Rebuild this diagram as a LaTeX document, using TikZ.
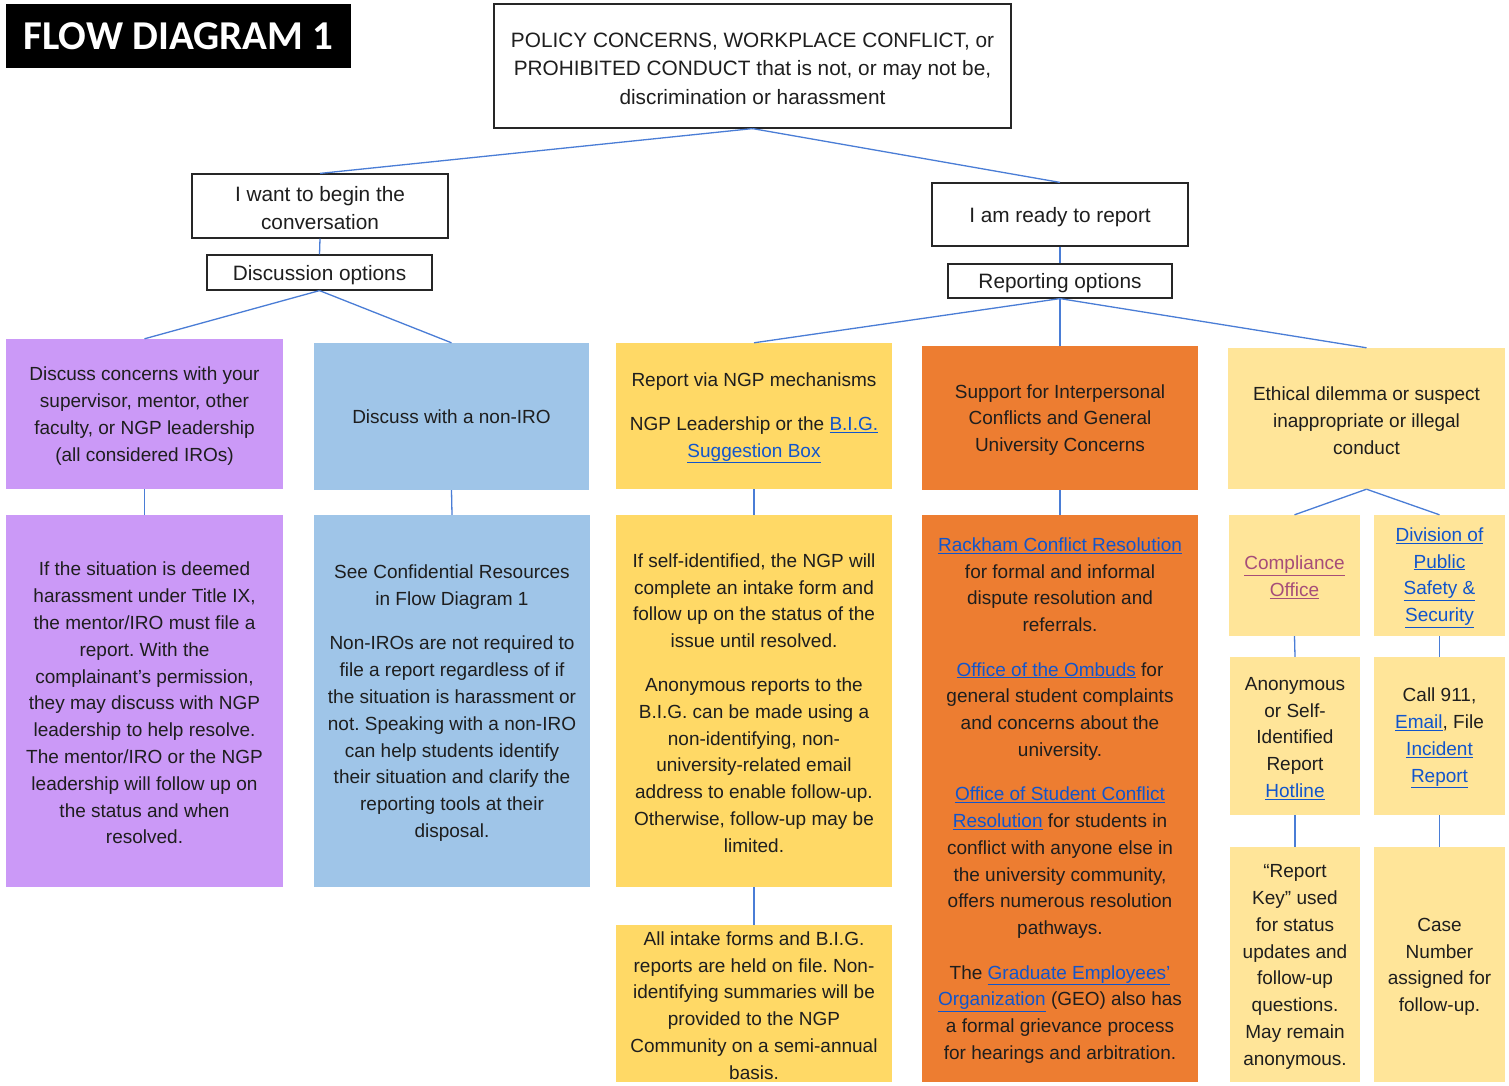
\documentclass[tikz,border=0pt]{standalone}
\usepackage{fontspec}
\setmainfont{Liberation Sans}
\newfontfamily\titlefont{Carlito}
\definecolor{purp}{RGB}{203,153,247}
\definecolor{lblue}{RGB}{159,197,232}
\definecolor{ylw}{RGB}{255,217,102}
\definecolor{orng}{RGB}{237,125,49}
\definecolor{lylw}{RGB}{255,229,153}
\definecolor{conncol}{RGB}{74,125,214}
\definecolor{linkblue}{RGB}{17,85,204}
\definecolor{linkvis}{RGB}{166,77,121}
\definecolor{txt}{RGB}{30,30,30}
\newcommand{\lnk}[1]{\textcolor{linkblue}{\underline{#1}}}
\newcommand{\vlnk}[1]{\textcolor{linkvis}{\underline{#1}}}
\newcommand{\mainfs}{\fontsize{19}{26.8}\selectfont\frenchspacing}
\newcommand{\headfs}{\fontsize{20.8}{28.6}\selectfont\frenchspacing}
\newcommand{\dn}{\rule{0pt}{0pt}\\[-9pt]}
\tikzset{
  wbox/.style={draw=black!85, line width=1.2pt, fill=white, inner sep=0pt, align=center, font=\headfs, text=txt},
  cbox/.style={draw=none, inner sep=0pt, align=center, font=\mainfs, text=txt},
  conn/.style={draw=conncol, line width=1.3pt},
}
\begin{document}
\begin{tikzpicture}[x=1pt,y=-1pt]
\useasboundingbox (0,0) rectangle (1509,1086);
\fill[white] (0,0) rectangle (1509,1086);

\node[fill=black, text=white, inner sep=0pt, minimum width=345, minimum height=64,
  font={\titlefont\bfseries\fontsize{41}{41}\selectfont}] (title) at (178.5,36) {FLOW DIAGRAM 1};

\node[wbox, minimum width=517, minimum height=124] (top) at (752.5,66)
 {\dn POLICY CONCERNS, WORKPLACE CONFLICT, or\\PROHIBITED CONDUCT that is not, or may not be,\\discrimination or harassment};
\node[wbox, minimum width=256, minimum height=64] (want) at (320,206) {\dn I want to begin the\\conversation};
\node[wbox, minimum width=225, minimum height=35] (disc) at (319.5,272.5) {\dn Discussion options};
\node[wbox, minimum width=256, minimum height=63] (ready) at (1060,214.5) {\dn I am ready to report};
\node[wbox, minimum width=224, minimum height=34] (rep) at (1060,281) {\dn Reporting options};

% row 1
\node[cbox, fill=purp, minimum width=277, minimum height=150] (p1) at (144.5,414)
 {\dn Discuss concerns with your\\supervisor, mentor, other\\faculty, or NGP leadership\\(all considered IROs)};
\node[cbox, fill=lblue, minimum width=275, minimum height=147] (b1) at (451.5,416.5) {Discuss with a non-IRO};
\node[cbox, fill=ylw, minimum width=276, minimum height=146] (y1) at (754,416)
 {\dn Report via NGP mechanisms\\[17pt]NGP Leadership or the \lnk{B.I.G.}\\\lnk{Suggestion Box}};
\node[cbox, fill=orng, minimum width=276, minimum height=144] (o1) at (1060,418)
 {\dn Support for Interpersonal\\Conflicts and General\\University Concerns};
\node[cbox, fill=lylw, minimum width=277, minimum height=141] (e1) at (1366.5,418.5)
 {\dn Ethical dilemma or suspect\\inappropriate or illegal\\conduct};

% row 2
\node[cbox, fill=purp, minimum width=277, minimum height=372] (p2) at (144.5,701)
 {\dn If the situation is deemed\\harassment under Title IX,\\the mentor/IRO must file a\\report. With the\\complainant's permission,\\they may discuss with NGP\\leadership to help resolve.\\The mentor/IRO or the NGP\\leadership will follow up on\\the status and when\\resolved.};
\node[cbox, fill=lblue, minimum width=276, minimum height=372] (b2) at (452,701)
 {\dn See Confidential Resources\\in Flow Diagram 1\\[18pt]Non-IROs are not required to\\file a report regardless of if\\the situation is harassment or\\not. Speaking with a non-IRO\\can help students identify\\their situation and clarify the\\reporting tools at their\\disposal.};
\node[cbox, fill=ylw, minimum width=276, minimum height=372] (y2) at (754,701)
 {\dn If self-identified, the NGP will\\complete an intake form and\\follow up on the status of the\\issue until resolved.\\[17pt]Anonymous reports to the\\B.I.G. can be made using a\\non-identifying, non-\\university-related email\\address to enable follow-up.\\Otherwise, follow-up may be\\limited.};
\node[cbox, fill=ylw, minimum width=276, minimum height=157] (y3) at (754,1003.5)
 {\dn All intake forms and B.I.G.\\reports are held on file. Non-\\identifying summaries will be\\provided to the NGP\\Community on a semi-annual\\basis.};
\node[cbox, fill=orng, minimum width=276, minimum height=567] (o2) at (1060,798.5)
 {\dn\lnk{Rackham Conflict Resolution}\\for formal and informal\\dispute resolution and\\referrals.\\[17.5pt]\lnk{Office of the Ombuds} for\\general student complaints\\and concerns about the\\university.\\[17.5pt]\lnk{Office of Student Conflict}\\\lnk{Resolution} for students in\\conflict with anyone else in\\the university community,\\offers numerous resolution\\pathways.\\[17.5pt]The \lnk{Graduate Employees'}\\\lnk{Organization} (GEO) also has\\a formal grievance process\\for hearings and arbitration.};

% right column
\node[cbox, fill=lylw, minimum width=131, minimum height=121] (comp) at (1294.5,575.5) {\dn\vlnk{Compliance}\\\vlnk{Office}};
\node[cbox, fill=lylw, minimum width=131, minimum height=121] (div) at (1439.5,575.5) {\dn\lnk{Division of}\\\lnk{Public}\\\lnk{Safety \&}\\\lnk{Security}};
\node[cbox, fill=lylw, minimum width=130, minimum height=158] (anon) at (1295,736) {\dn Anonymous\\or Self-\\Identified\\Report\\\lnk{Hotline}};
\node[cbox, fill=lylw, minimum width=131, minimum height=158] (call) at (1439.5,736) {\dn Call 911,\\\lnk{Email}, File\\\lnk{Incident}\\\lnk{Report}};
\node[cbox, fill=lylw, minimum width=130, minimum height=235] (key) at (1295,964.5) {\dn “Report\\Key” used\\for status\\updates and\\follow-up\\questions.\\May remain\\anonymous.};
\node[cbox, fill=lylw, minimum width=131, minimum height=235] (case) at (1439.5,964.5) {\dn Case\\Number\\assigned for\\follow-up.};

% connectors
\draw[conn] (top.south) -- (want.north);
\draw[conn] (top.south) -- (ready.north);
\draw[conn] (want.south) -- (disc.north);
\draw[conn] (ready.south) -- (rep.north);
\draw[conn] (disc.south) -- (p1.north);
\draw[conn] (disc.south) -- (b1.north);
\draw[conn] (rep.south) -- (y1.north);
\draw[conn] (rep.south) -- (o1.north);
\draw[conn] (rep.south) -- (e1.north);
\draw[conn] (p1.south) -- (p2.north);
\draw[conn] (b1.south) -- (b2.north);
\draw[conn] (y1.south) -- (y2.north);
\draw[conn] (o1.south) -- (o2.north);
\draw[conn] (y2.south) -- (y3.north);
\draw[conn] (e1.south) -- (comp.north);
\draw[conn] (e1.south) -- (div.north);
\draw[conn] (comp.south) -- (anon.north);
\draw[conn] (div.south) -- (call.north);
\draw[conn] (anon.south) -- (key.north);
\draw[conn] (call.south) -- (case.north);
\end{tikzpicture}
\end{document}
